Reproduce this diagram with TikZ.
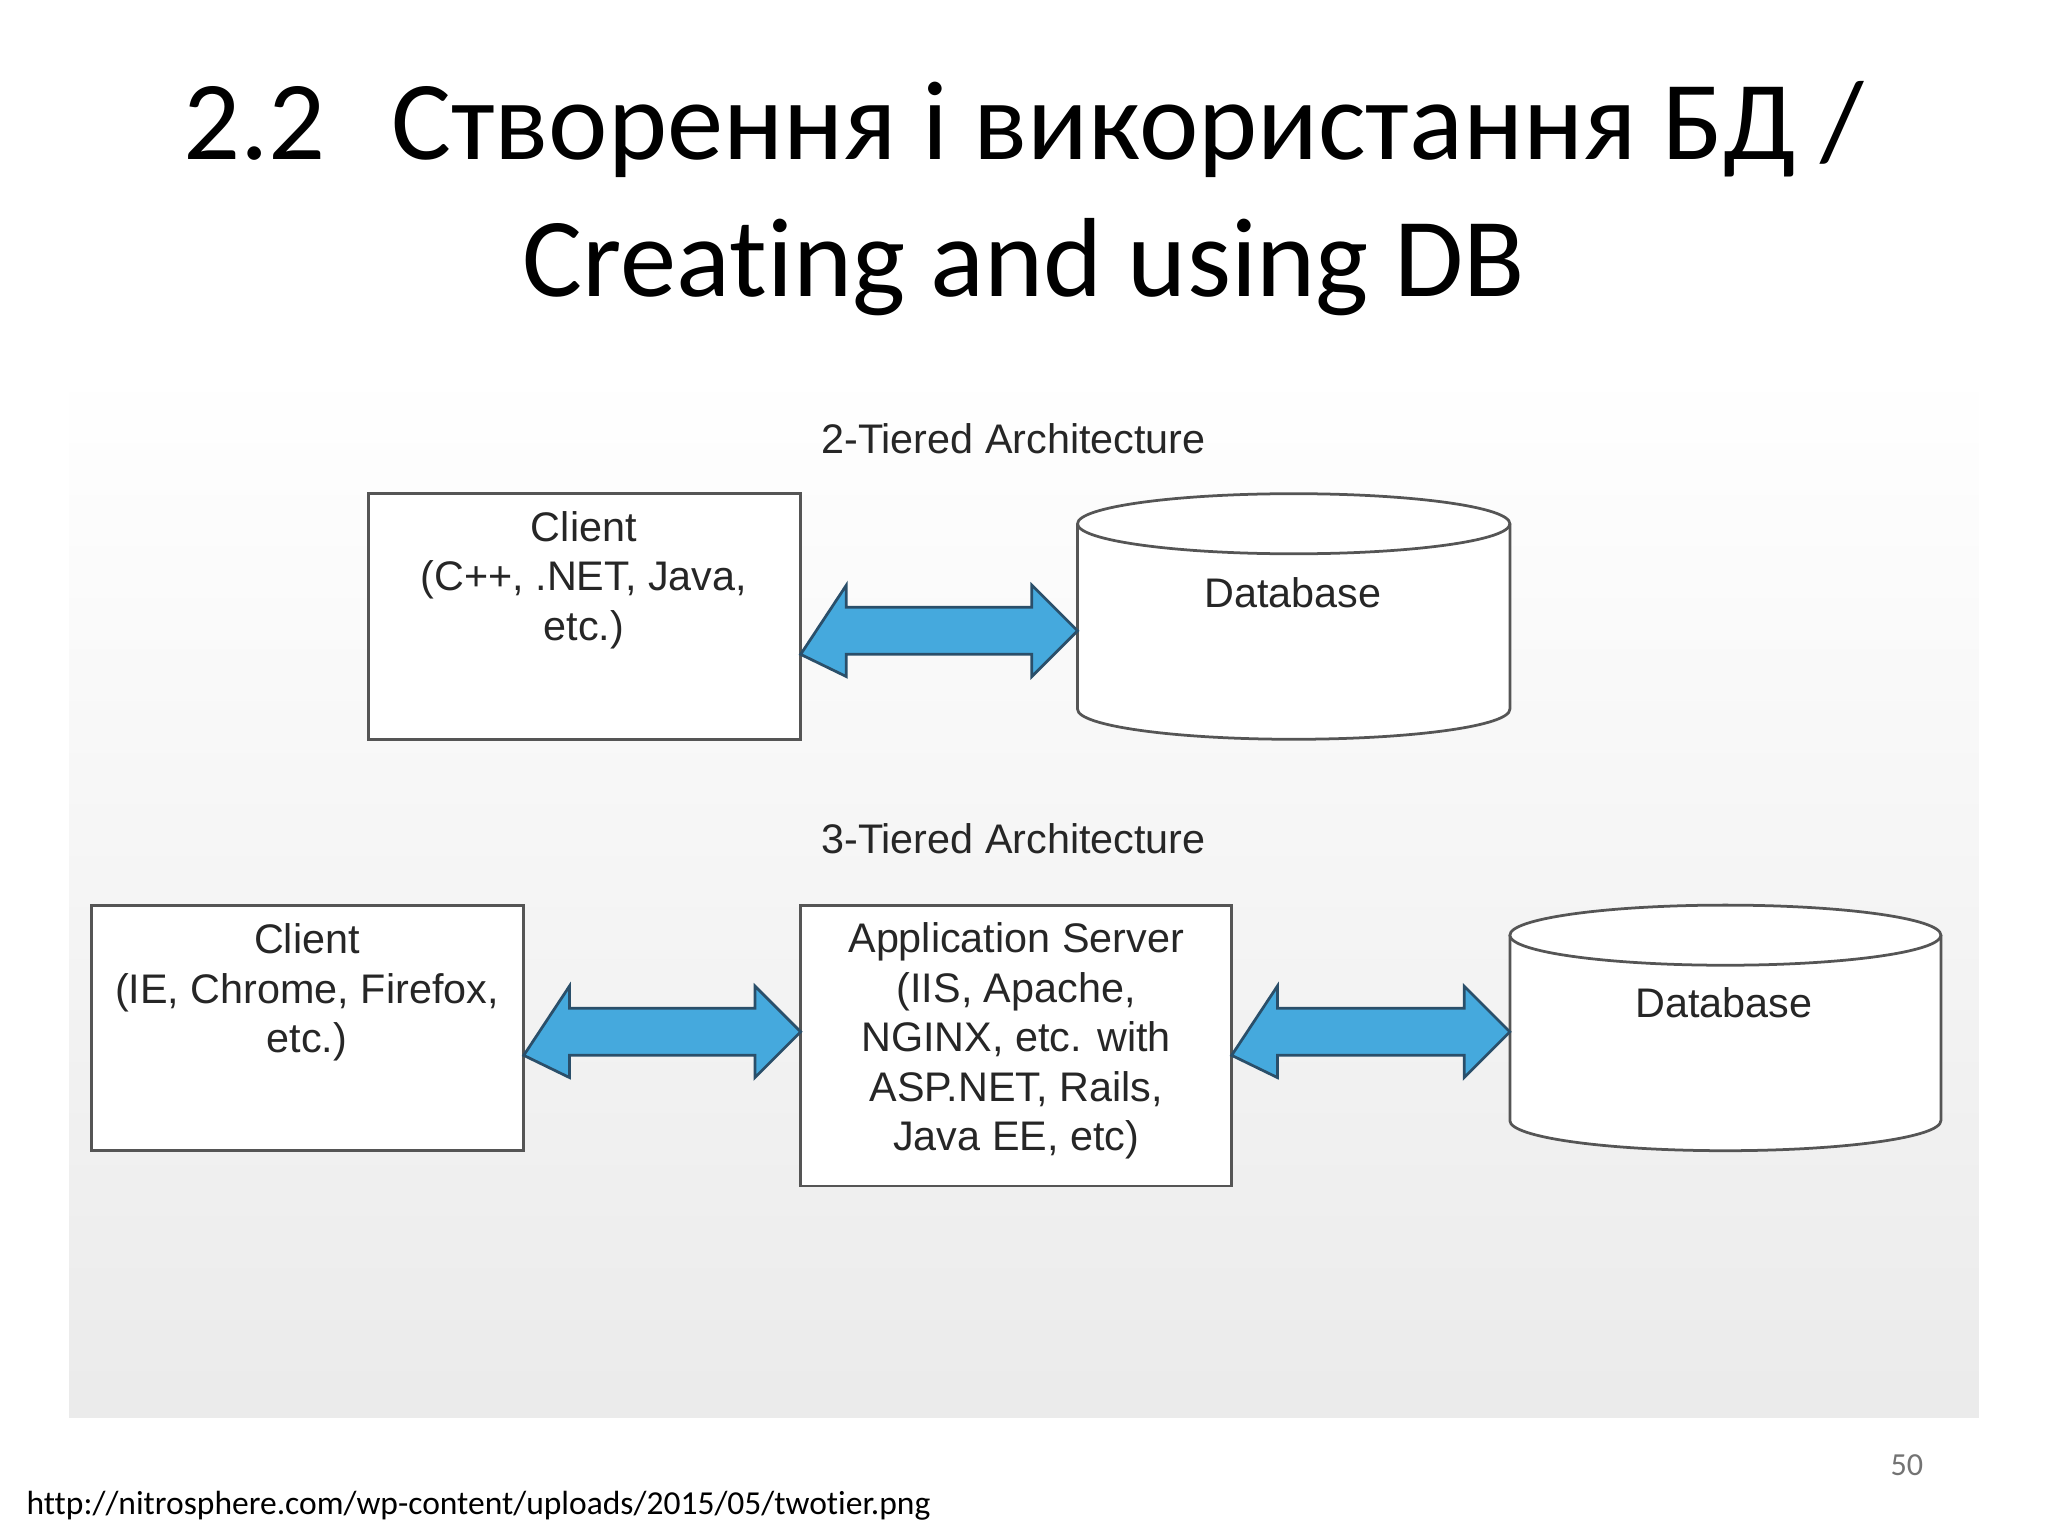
\documentclass[tikz,border=0pt]{standalone}
\usepackage{fontspec}
\setmainfont[Ligatures=NoCommon]{Carlito}
\newfontfamily\dg{Liberation Sans}
\usetikzlibrary{calc}
\definecolor{arrfill}{HTML}{45A9DD}
\definecolor{arrline}{HTML}{2A4F6A}
\definecolor{boxline}{HTML}{555555}
\tikzset{
  dtext/.style={font=\dg\fontsize{9}{10.8}\selectfont,text=black!85,align=center},
  dbl/.style={fill=arrfill,draw=arrline,line width=0.6pt},
}
\newcommand\dbarrow[3]{% from, to, y
  \path[dbl] (#1,#3+18) -- (#1+35,#3+35) -- (#1+35,#3+18) -- (#2-35,#3+18) -- (#2-35,#3+35) -- (#2,#3) -- (#2-35,#3-35) -- (#2-35,#3-18) -- (#1+35,#3-18) -- (#1+35,#3-35) -- cycle;}
\newcommand\cyl[5]{% x1 x2 ytop ybot name
  \path[fill=white,draw=boxline,line width=0.6pt] (#1,#3) -- (#1,#4) arc[start angle=180,end angle=360,x radius={(#2-#1)/2*0.01cm},y radius=0.23cm] -- (#2,#3);
  \path[fill=white,draw=boxline,line width=0.6pt] ({(#1+#2)/2},#3) ellipse[x radius={(#2-#1)/2*0.01cm},y radius=0.23cm];}
\begin{document}
\begin{tikzpicture}[x=0.01cm,y=-0.01cm]
\useasboundingbox (0,0) rectangle (1568,1176);
\shade[top color=white,bottom color=black!8] (53,280) rectangle (1515,1085);
\node[font=\fontsize{24.5}{30}\selectfont,align=center] (title) at (784,152) {2.2\hspace{0.5cm}Створення і використання БД /\\Creating and using DB};
\node[dtext] (t2) at (776,336) {2-Tiered Architecture};
\node[dtext] (t3) at (776,642) {3-Tiered Architecture};
% 2-tier
\draw[draw=boxline,line width=0.6pt,fill=white] (282,378) rectangle (613,566);
\node[dtext] (c1) at (447,444) {Client\\(C++, .NET, Java,\\etc.)};
\cyl{825}{1156}{401}{543}{d1}
\node[dtext] (d1) at (990,454) {Database};
\dbarrow{613}{825}{483}
% 3-tier
\draw[draw=boxline,line width=0.6pt,fill=white] (70,693) rectangle (401,881);
\node[dtext] (c2) at (235,760) {Client\\(IE, Chrome, Firefox,\\etc.)};
\draw[draw=boxline,line width=0.6pt,fill=white] (613,693) rectangle (943,908);
\node[dtext] (a2) at (778,797) {Application Server\\(IIS, Apache,\\NGINX, etc. with\\ASP.NET, Rails,\\Java EE, etc)};
\cyl{1156}{1486}{716}{858}{d2}
\node[dtext] (d2) at (1320,768) {Database};
\dbarrow{401}{613}{790}
\dbarrow{943}{1156}{790}
\node[anchor=west,font=\fontsize{7.3}{9}\selectfont] (url) at (8,1153) {http://nitrosphere.com/wp-content/uploads/2015/05/twotier.png};
\node[font=\fontsize{7}{8}\selectfont,text=black!55] (pg) at (1460,1122) {50};
\end{tikzpicture}
\end{document}
